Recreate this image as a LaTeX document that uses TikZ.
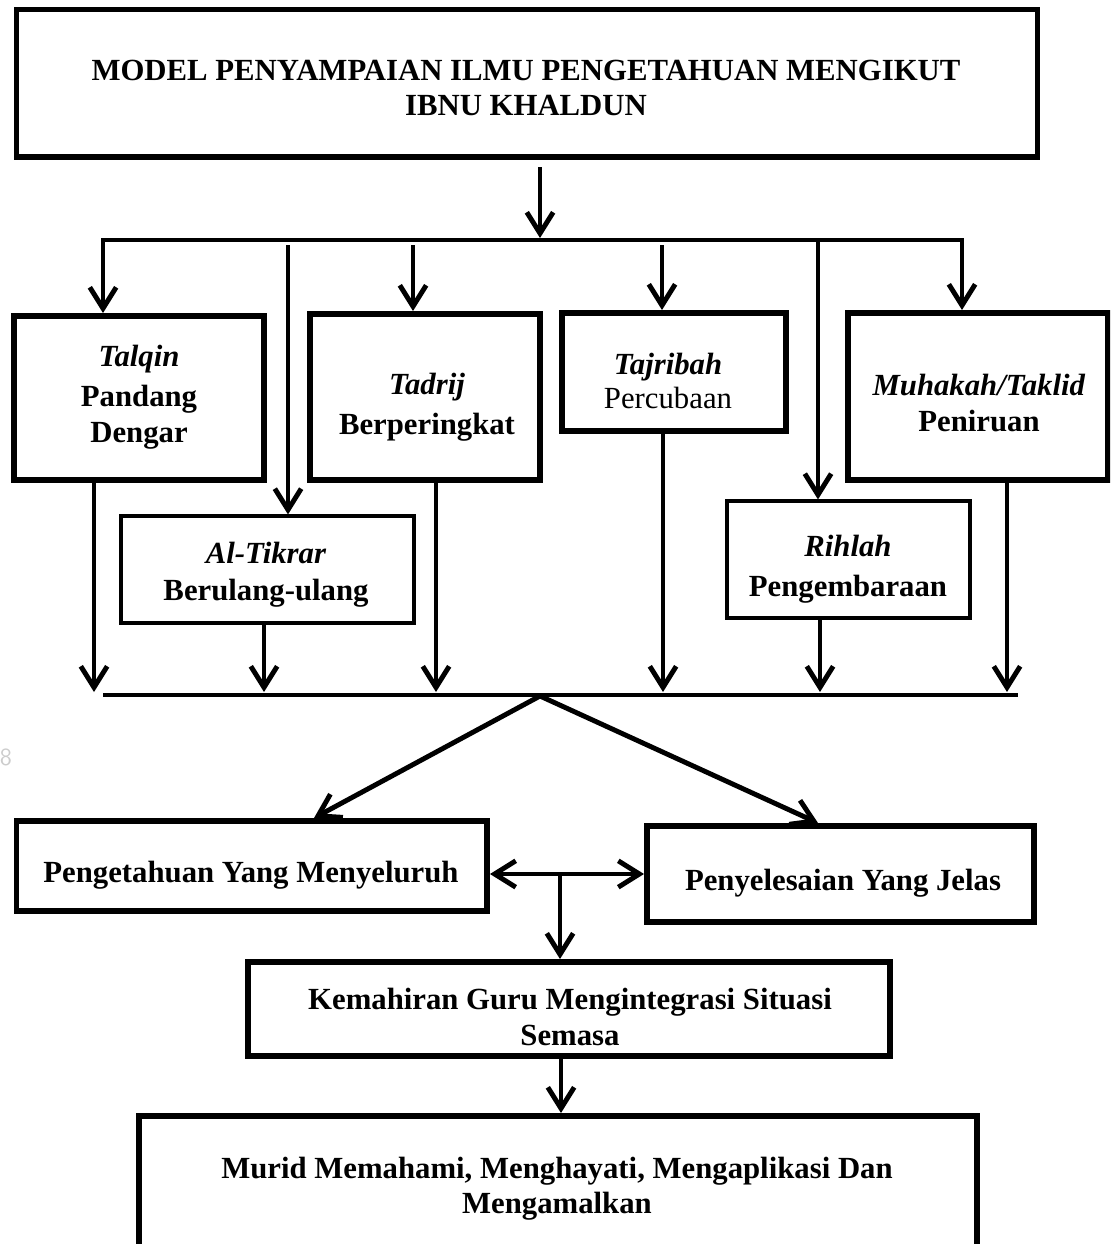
\documentclass[tikz,border=0pt]{standalone}
\usepackage{fontspec}
\setmainfont{Liberation Serif}
\usetikzlibrary{arrows.meta}
\begin{document}
\begin{tikzpicture}[x=0.02cm,y=-0.02cm,
  thickbox/.style={draw, line width=3.4pt, inner sep=0pt},
  thinbox/.style={thickbox, line width=1.8pt},
  lbl/.style={align=center, inner sep=0pt, font=\fontsize{17.5}{20}\selectfont\bfseries},
  conn/.style={line width=2.8pt},
  arr/.style={conn, -{Straight Barb[length=12pt,width=15pt]}},
  darr/.style={conn, line join=miter, {Straight Barb[length=12pt,width=15pt]}-{Straight Barb[length=12pt,width=15pt]}},
]
\useasboundingbox (0,0) rectangle (1110,1244);
\clip (0,0) rectangle (1110,1244);

% boxes
\node[thickbox, minimum width=1021*0.02cm, minimum height=147.5*0.02cm] (title) at (527,83.25) {};
\node[thickbox, minimum width=250*0.02cm, minimum height=164*0.02cm] (talqin) at (139,398) {};
\node[thickbox, minimum width=230*0.02cm, minimum height=166*0.02cm] (tadrij) at (425,397) {};
\node[thickbox, minimum width=224*0.02cm, minimum height=118*0.02cm] (tajribah) at (674,372) {};
\node[thickbox, minimum width=260*0.02cm, minimum height=167*0.02cm] (muhakah) at (978,396.5) {};
\node[thinbox, minimum width=293*0.02cm, minimum height=107*0.02cm] (tikrar) at (267.5,569.5) {};
\node[thinbox, minimum width=243*0.02cm, minimum height=117*0.02cm] (rihlah) at (848.5,559.5) {};
\node[thickbox, minimum width=470.5*0.02cm, minimum height=90*0.02cm] (peng) at (251.75,866) {};
\node[thickbox, minimum width=387*0.02cm, minimum height=96*0.02cm] (peny) at (840.5,874) {};
\node[thickbox, minimum width=642*0.02cm, minimum height=94*0.02cm] (kema) at (569,1009) {};
\node[thickbox, minimum width=838*0.02cm, minimum height=134*0.02cm] (murid) at (558,1183) {};

% texts
\node[lbl] (titleT) at (526,88) {MODEL PENYAMPAIAN ILMU PENGETAHUAN MENGIKUT\\IBNU KHALDUN};
\node[lbl] (talqinT) at (139,397) {\textit{Talqin}\\[3pt]Pandang\\Dengar};
\node[lbl] (tadrijT) at (427,407) {\textit{Tadrij}\\[3pt]Berperingkat};
\node[lbl] (tajribahT) at (668,381) {\textit{Tajribah}\\[-1pt]{\mdseries Percubaan}};
\node[lbl] (muhakahT) at (979,403) {\textit{Muhakah/Taklid}\\Peniruan};
\node[lbl] (tikrarT) at (266,575) {\textit{Al-Tikrar}\\[1pt]Berulang-ulang};
\node[lbl] (rihlahT) at (848,569) {\textit{Rihlah}\\[3pt]Pengembaraan};
\node[lbl] (pengT) at (251,875) {Pengetahuan Yang Menyeluruh};
\node[lbl] (penyT) at (843,883) {Penyelesaian Yang Jelas};
\node[lbl] (kemaT) at (570,1017) {Kemahiran Guru Mengintegrasi Situasi\\Semasa};
\node[lbl] (muridT) at (557,1189) {Murid Memahami, Menghayati, Mengaplikasi Dan\\Mengamalkan};

\node[text=black!20, font=\fontsize{14}{16}\sffamily, inner sep=0pt] (pg) at (6,757) {8};

% title to bus
\coordinate (tA) at (540,167);
\coordinate (tB) at (540,238);
\draw[arr] (tA) -- (tB);

% top bus with corners
\coordinate (busL) at (103,240);
\coordinate (busR) at (962,240);
\draw[darr] (talqin.north -| busL) |- (busR) -- (muhakah.north -| busR);

% drops
\coordinate (d1) at (288,245);
\coordinate (d2) at (413,245);
\coordinate (d3) at (662,245);
\coordinate (d4) at (818,240);
\draw[arr] (d1) -- (tikrar.north -| d1);
\draw[arr] (d2) -- (tadrij.north -| d2);
\draw[arr] (d3) -- (tajribah.north -| d3);
\draw[arr] (d4) -- (rihlah.north -| d4);

% to lower bus
\coordinate (u1) at (94,692);
\coordinate (u2) at (264,692);
\coordinate (u3) at (436,692);
\coordinate (u4) at (663,692);
\coordinate (u5) at (820,692);
\coordinate (u6) at (1007,692);
\draw[arr] (talqin.south -| u1) -- (u1);
\draw[arr] (tikrar.south -| u2) -- (u2);
\draw[arr] (tadrij.south -| u3) -- (u3);
\draw[arr] (tajribah.south -| u4) -- (u4);
\draw[arr] (rihlah.south -| u5) -- (u5);
\draw[arr] (muhakah.south -| u6) -- (u6);

\coordinate (lbL) at (103,695);
\coordinate (lbR) at (1018,695);
\draw[conn] (lbL) -- (lbR);

% diagonals
\coordinate (hub) at (540,696);
\coordinate (pt) at (314,0);
\coordinate (yt) at (818,0);
\draw[arr] (hub) -- (peng.north -| pt);
\draw[arr] (hub) -- (peny.north -| yt);

% double arrow and down
\coordinate (dy) at (560,874);
\draw[darr] (peng.east |- dy) -- (peny.west |- dy);
\draw[arr] (dy) -- (kema.north -| dy);

\coordinate (kx) at (561,0);
\draw[arr] (kema.south -| kx) -- (murid.north -| kx);
\end{tikzpicture}
\end{document}
